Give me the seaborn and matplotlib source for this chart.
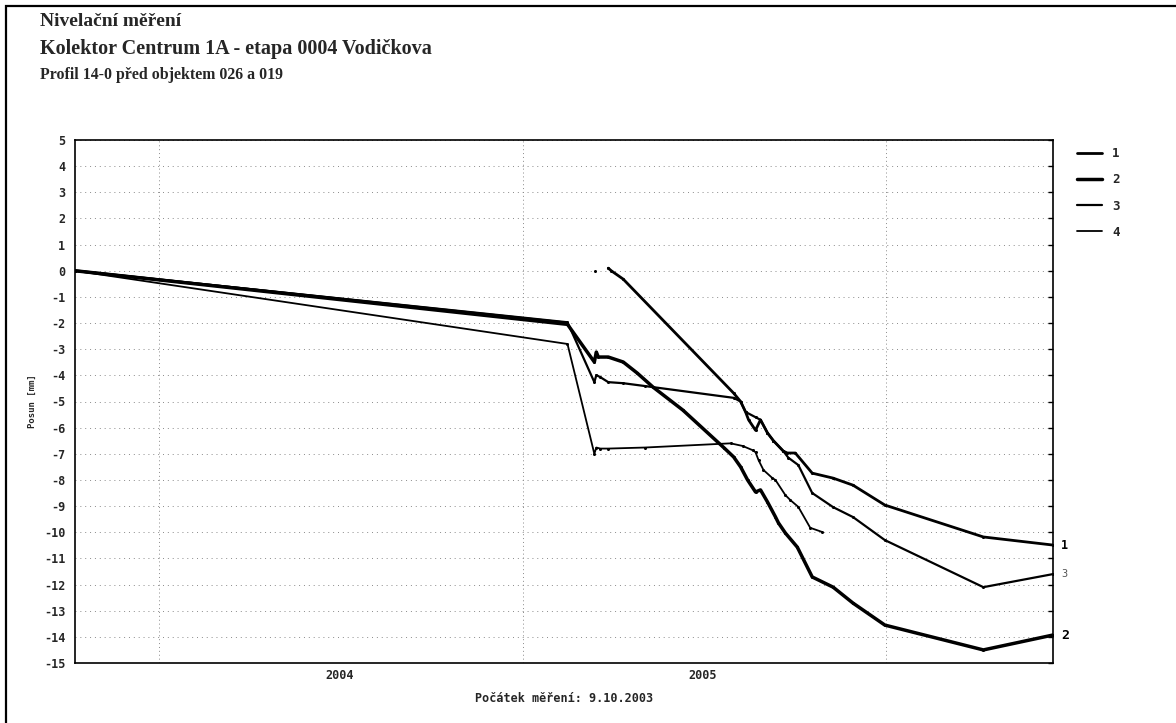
import numpy as np
import pandas as pd
import matplotlib
matplotlib.use("Agg")
import matplotlib.pyplot as plt
import matplotlib.dates as mdates
from matplotlib.lines import Line2D
from matplotlib.patches import Rectangle
from matplotlib.ticker import NullFormatter
import seaborn as sns

# Levelling points 1-4: measurement dates and vertical displacement [mm].
# A None entry separates independent runs of the same point (re-set zero).
bod1_datum = ["2003-10-09", "2005-02-15", None, "2005-03-15", None,
              "2005-03-28", "2005-03-31", "2005-04-12", "2005-08-01", "2005-08-08",
              "2005-08-13", "2005-08-16", "2005-08-23", "2005-08-28", "2005-09-04",
              "2005-09-10", "2005-09-20", "2005-09-24", "2005-10-02", "2005-10-19",
              "2005-11-09", "2005-11-29", "2005-12-31", "2006-04-09", "2006-06-18"]
bod1_posun = [0.0, -2.0, None, 0.0, None,
              0.1, 0.0, -0.32, -4.68, -5.0,
              -5.4, -5.7, -6.1, -5.7, -6.2,
              -6.5, -6.9, -6.97, -6.97, -7.74,
              -7.93, -8.2, -8.96, -10.18, -10.49]

bod2_datum = ["2003-10-09", "2005-02-15", "2005-03-14", "2005-03-16", "2005-03-18",
              "2005-03-28", "2005-04-12", "2005-04-26", "2005-05-12", "2005-06-11",
              "2005-07-22", "2005-08-01", "2005-08-08", "2005-08-15", "2005-08-23",
              "2005-08-28", "2005-09-04", "2005-09-12", "2005-09-15", "2005-09-22",
              "2005-10-04", "2005-10-19", "2005-11-09", "2005-11-29", "2005-12-31",
              "2006-04-09", "2006-06-18"]
bod2_posun = [0.0, -2.05, -3.49, -3.11, -3.30,
              -3.30, -3.49, -3.91, -4.45, -5.33,
              -6.76, -7.12, -7.5, -8.0, -8.46,
              -8.38, -8.84, -9.41, -9.64, -10.03,
              -10.57, -11.71, -12.1, -12.71, -13.55,
              -14.5, -13.93]

bod3_datum = ["2003-10-09", "2005-02-15", "2005-03-14", "2005-03-16", "2005-03-20",
              "2005-03-28", "2005-04-12", "2005-05-04", "2005-08-01", "2005-08-08",
              "2005-08-13", "2005-08-23", "2005-08-28", "2005-09-04", "2005-09-10",
              "2005-09-20", "2005-09-25", "2005-10-05", "2005-10-19", "2005-11-09",
              "2005-11-29", "2005-12-31", "2006-04-09", "2006-06-18"]
bod3_posun = [0.0, -1.97, -4.26, -3.99, -4.07,
              -4.26, -4.30, -4.41, -4.86, -5.0,
              -5.4, -5.6, -5.7, -6.2, -6.5,
              -6.9, -7.15, -7.43, -8.5, -9.04,
              -9.42, -10.3, -12.1, -11.6]

bod4_datum = ["2003-10-09", "2005-02-15", "2005-03-14", "2005-03-16", "2005-03-20",
              "2005-03-28", "2005-05-04", "2005-07-29", "2005-08-10", "2005-08-20",
              "2005-08-23", "2005-08-26", "2005-08-31", "2005-09-09", "2005-09-12",
              "2005-09-22", "2005-09-27", "2005-10-05", "2005-10-17", "2005-10-29"]
bod4_posun = [0.0, -2.8, -7.0, -6.76, -6.8,
              -6.8, -6.76, -6.6, -6.7, -6.86,
              -6.94, -7.24, -7.62, -7.93, -8.0,
              -8.58, -8.77, -9.03, -9.83, -9.99]

body = ["1", "2", "3", "4"]
tloustky = {"1": 2.0, "2": 2.5, "3": 1.6, "4": 1.3}

pocatek = "2003-10-09"
konec = "2006-06-18"
y_ticks = list(range(-15, 6))


def tabulka(bod, datum, posun):
    df = pd.DataFrame({"datum": pd.to_datetime(datum), "posun": posun})
    df["usek"] = df["posun"].isna().cumsum()
    df["bod"] = bod
    return df.dropna()


data = pd.concat([
    tabulka("1", bod1_datum, bod1_posun),
    tabulka("2", bod2_datum, bod2_posun),
    tabulka("3", bod3_datum, bod3_posun),
    tabulka("4", bod4_datum, bod4_posun),
], ignore_index=True)

sns.set_style("white")
plt.rcParams["font.family"] = ["DejaVu Sans Mono", "DejaVu Sans"]
plt.rcParams["font.weight"] = "bold"

W, H = 1176, 723
fig = plt.figure(figsize=(W / 100, H / 100), dpi=100)
fig.patch.set_facecolor("white")
ax = fig.add_axes([75 / W, 1 - 663 / H, (1053 - 75) / W, (663 - 140) / H])

for bod in body:
    sns.lineplot(data=data[data["bod"] == bod], x="datum", y="posun",
                 units="usek", estimator=None, sort=False,
                 color="black", linewidth=tloustky[bod],
                 marker="o", markersize=2.2, markeredgewidth=0,
                 legend=False, ax=ax)

ax.set_xlim(pd.Timestamp(pocatek), pd.Timestamp(konec))
ax.set_ylim(-15, 5)
ax.set_yticks(y_ticks)
ax.set_yticklabels([str(v) for v in y_ticks])

ax.xaxis.set_major_locator(mdates.YearLocator())
ax.xaxis.set_major_formatter(NullFormatter())
ax.xaxis.set_minor_locator(mdates.MonthLocator(bymonth=7, bymonthday=1))
ax.xaxis.set_minor_formatter(mdates.DateFormatter("%Y"))

ax.tick_params(axis="both", which="major", direction="in", length=3.5, width=1,
               labelsize=8.5, right=True, top=False, color="black")
ax.tick_params(axis="x", which="minor", length=0, labelsize=8.5, pad=4)
ax.tick_params(axis="y", which="major", pad=7)
for lab in ax.get_yticklabels() + ax.get_xticklabels(minor=True):
    lab.set_fontweight("bold")

ax.grid(axis="y", which="major", color="#8a8a8a", linestyle=(0, (1, 4)), linewidth=0.7)
ax.grid(axis="x", which="major", color="#8a8a8a", linestyle=(0, (1, 3)), linewidth=0.7)

for sp in ax.spines.values():
    sp.set_visible(True)
    sp.set_color("black")
    sp.set_linewidth(1.2)

ax.set_ylabel("Posun [mm]", fontsize=6.5, fontweight="bold")
ax.yaxis.set_label_coords(-(75 - 37) / (1053 - 75), 0.5)
ax.set_xlabel("Počátek měření: 9.10.2003", fontsize=8.5, fontweight="bold")
ax.xaxis.set_label_coords(0.5, -(692 - 663) / (663 - 140))

# Labels at the last measured value of each continuing point
koncove = {"1": dict(fontsize=8.5, fontweight="bold", color="black"),
           "3": dict(fontsize=7.5, fontweight="normal", color="#555555"),
           "2": dict(fontsize=9.5, fontweight="bold", color="black")}
for bod, styl in koncove.items():
    posl = data[data["bod"] == bod].iloc[-1]
    ax.annotate(bod, xy=(posl["datum"], posl["posun"]), xytext=(6, 0),
                textcoords="offset points", va="center", ha="left",
                annotation_clip=False, **styl)

# Titles
fig.text(40 / W, 1 - 22 / H, "Nivelační měření", family="Liberation Serif",
         fontweight="bold", fontsize=14, va="center", ha="left")
fig.text(40 / W, 1 - 49 / H, "Kolektor Centrum 1A - etapa 0004 Vodičkova",
         family="Liberation Serif", fontweight="bold", fontsize=14.5, va="center", ha="left")
fig.text(40 / W, 1 - 75 / H, "Profil 14-0 před objektem 026 a 019",
         family="Liberation Serif", fontweight="bold", fontsize=11.4, va="center", ha="left")

# Legend outside the plotting area
handles = [Line2D([], [], color="black", linewidth=tloustky[b]) for b in body]
fig.legend(handles, body, loc="upper left", bbox_to_anchor=(1066 / W, 1 - 136 / H),
           frameon=False, handlelength=2.0, handletextpad=0.8, labelspacing=1.05,
           prop={"family": "DejaVu Sans Mono", "weight": "bold", "size": 9})

# Page frame
fig.add_artist(Rectangle((6 / W, -0.05), 1.2, 1.05 - 6 / H, transform=fig.transFigure,
                         fill=False, edgecolor="black", linewidth=1.6))

fig.savefig("out.png", dpi=100, facecolor="white")
